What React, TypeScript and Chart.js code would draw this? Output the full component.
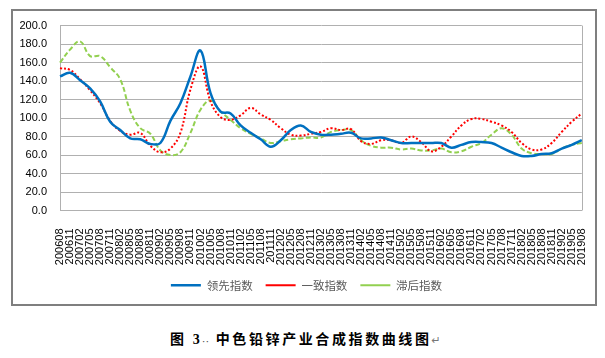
import React, { useEffect, useRef } from 'react';
import { Chart, registerables } from 'chart.js';

Chart.register(...registerables);

const labels = [
  '200608', '200611', '200702', '200705', '200708', '200711', '200802', '200805', '200808', '200811',
  '200902', '200905', '200908', '200911', '201002', '201005', '201008', '201011', '201102', '201105',
  '201108', '201111', '201202', '201205', '201208', '201211', '201302', '201305', '201308', '201311',
  '201402', '201405', '201408', '201411', '201502', '201505', '201508', '201511', '201602', '201605',
  '201608', '201611', '201702', '201705', '201708', '201711', '201802', '201805', '201808', '201811',
  '201902', '201905', '201908',
];

const leadingIndex = [
  145, 149, 141, 132, 118, 96, 87, 78, 77, 72,
  73, 97, 116, 145, 173, 127, 107, 105, 92, 84,
  77, 69, 76, 87, 92, 85, 82, 82, 83, 84,
  78, 78, 79, 76, 73, 73, 73, 73, 73, 68,
  71, 74, 74, 73, 68, 63, 59, 59, 61, 62,
  67, 71, 76,
];

const coincidentIndex = [
  154, 152, 142, 130, 116, 97, 86, 82, 84, 70,
  63, 67, 84, 131, 156, 118, 101, 98, 103, 111,
  104, 98, 89, 82, 81, 83, 85, 89, 87, 88,
  75, 72, 76, 76, 73, 80, 74, 64, 69, 80,
  92, 99, 99, 96, 92, 85, 73, 66, 66, 73,
  85, 96, 105,
];

const laggingIndex = [
  160, 174, 183, 167, 167, 155, 142, 108, 89, 83,
  65, 60, 63, 84, 109, 119, 107, 98, 89, 83,
  78, 73, 75, 77, 78, 79, 79, 85, 87, 87,
  76, 70, 68, 68, 66, 67, 65, 65, 67, 63,
  64, 69, 73, 82, 89, 82, 67, 62, 61, 61,
  67, 71, 73,
];

const seriesNames = ['领先指数', '一致指数', '滞后指数'];

const plotBorder = {
  id: 'plotBorder',
  afterLayout(chart: any) {
    const lg = chart.legend;
    if (lg) {
      lg.left += 4;
      lg.right += 4;
    }
  },
  afterDraw(chart: any) {
    const { ctx, chartArea } = chart;
    ctx.save();
    ctx.strokeStyle = '#b0b0b0';
    ctx.lineWidth = 1;
    ctx.beginPath();
    ctx.moveTo(Math.round(chartArea.right) + 0.5, chartArea.top);
    ctx.lineTo(Math.round(chartArea.right) + 0.5, chartArea.bottom);
    ctx.stroke();
    ctx.restore();
  },
};

function ChartBox() {
  const ref = useRef<HTMLCanvasElement | null>(null);
  useEffect(() => {
    if (!ref.current) return;
    const chart = new Chart(ref.current, {
      type: 'line',
      data: {
        labels,
        datasets: [
          {
            label: seriesNames[0],
            data: leadingIndex,
            borderColor: '#0070C0',
            backgroundColor: '#0070C0',
            borderWidth: 2.5,
            pointRadius: 0,
            tension: 0.4,
            fill: false,
          },
          {
            label: seriesNames[1],
            data: coincidentIndex,
            borderColor: '#FF0000',
            backgroundColor: '#FF0000',
            borderWidth: 2,
            borderDash: [2, 2],
            pointRadius: 0,
            tension: 0.4,
            fill: false,
          },
          {
            label: seriesNames[2],
            data: laggingIndex,
            borderColor: '#92D050',
            backgroundColor: '#92D050',
            borderWidth: 2,
            borderDash: [5, 2.5],
            pointRadius: 0,
            tension: 0.4,
            fill: false,
          },
        ],
      },
      options: {
        responsive: false,
        animation: false,
        devicePixelRatio: 1,
        layout: { padding: { left: 0, right: 13, top: 10, bottom: 3 } },
        plugins: {
          tooltip: { enabled: false },
          legend: {
            position: 'bottom',
            labels: {
              usePointStyle: true,
              pointStyle: 'line',
              pointStyleWidth: 30,
              padding: 13,
              color: '#595959',
              font: { size: 11.5, family: "'Noto Sans CJK SC', sans-serif" },
            },
          },
        },
        scales: {
          x: {
            type: 'category',
            offset: false,
            grid: { display: false },
            border: { display: true, color: '#b0b0b0' },
            ticks: {
              autoSkip: false,
              minRotation: 90,
              maxRotation: 90,
              padding: 10,
              color: '#000',
              font: { size: 11, family: "'Liberation Sans', Arial, sans-serif" },
            },
            afterFit: (s: any) => {
              s.height = 56;
            },
          },
          y: {
            min: 0,
            max: 200,
            grid: { color: '#b0b0b0', lineWidth: 1, drawTicks: false },
            border: { display: true, color: '#b0b0b0' },
            ticks: {
              stepSize: 20,
              padding: 13,
              color: '#000',
              font: { size: 11, family: "'Liberation Sans', Arial, sans-serif" },
              callback: (v: any) => Number(v).toFixed(1),
            },
            afterFit: (s: any) => {
              s.width = 47;
            },
          },
        },
      },
      plugins: [plotBorder],
    });
    return () => chart.destroy();
  }, []);
  return (
    <canvas
      ref={ref}
      width={592}
      height={298}
      style={{ display: 'block', position: 'absolute', left: 5, top: -2 }}
    />
  );
}

export default function App() {
  return (
    <div style={{ position: 'relative', width: 589, height: 342 }}>
      <div
        style={{
          position: 'absolute',
          left: 3,
          top: 1,
          width: 582,
          height: 293,
          border: '2px solid #7f7f7f',
          background: '#fff',
        }}
      />
      <ChartBox />
      <div
        style={{
          position: 'absolute',
          left: 588,
          top: 284,
          fontSize: 10,
          color: '#888',
          fontFamily: "'DejaVu Sans', sans-serif",
        }}
      >
        ↵
      </div>
      <div
        style={{
          position: 'absolute',
          left: 162,
          top: 322,
          height: 20,
          lineHeight: '20px',
          whiteSpace: 'nowrap',
          fontFamily: "'Liberation Serif', 'Noto Sans CJK SC', serif",
          fontWeight: 'bold',
          fontSize: 14,
          letterSpacing: '2.6px',
          color: '#000',
        }}
      >
        <span>图 3</span>
        <span style={{ fontSize: 8, color: '#555', letterSpacing: '1px' }}>··</span>
        <span> 中色铅锌产业合成指数曲线图</span>
        <span style={{ fontWeight: 'normal', fontSize: 11, color: '#777', fontFamily: "'DejaVu Sans', sans-serif" }}>↵</span>
      </div>
    </div>
  );
}
